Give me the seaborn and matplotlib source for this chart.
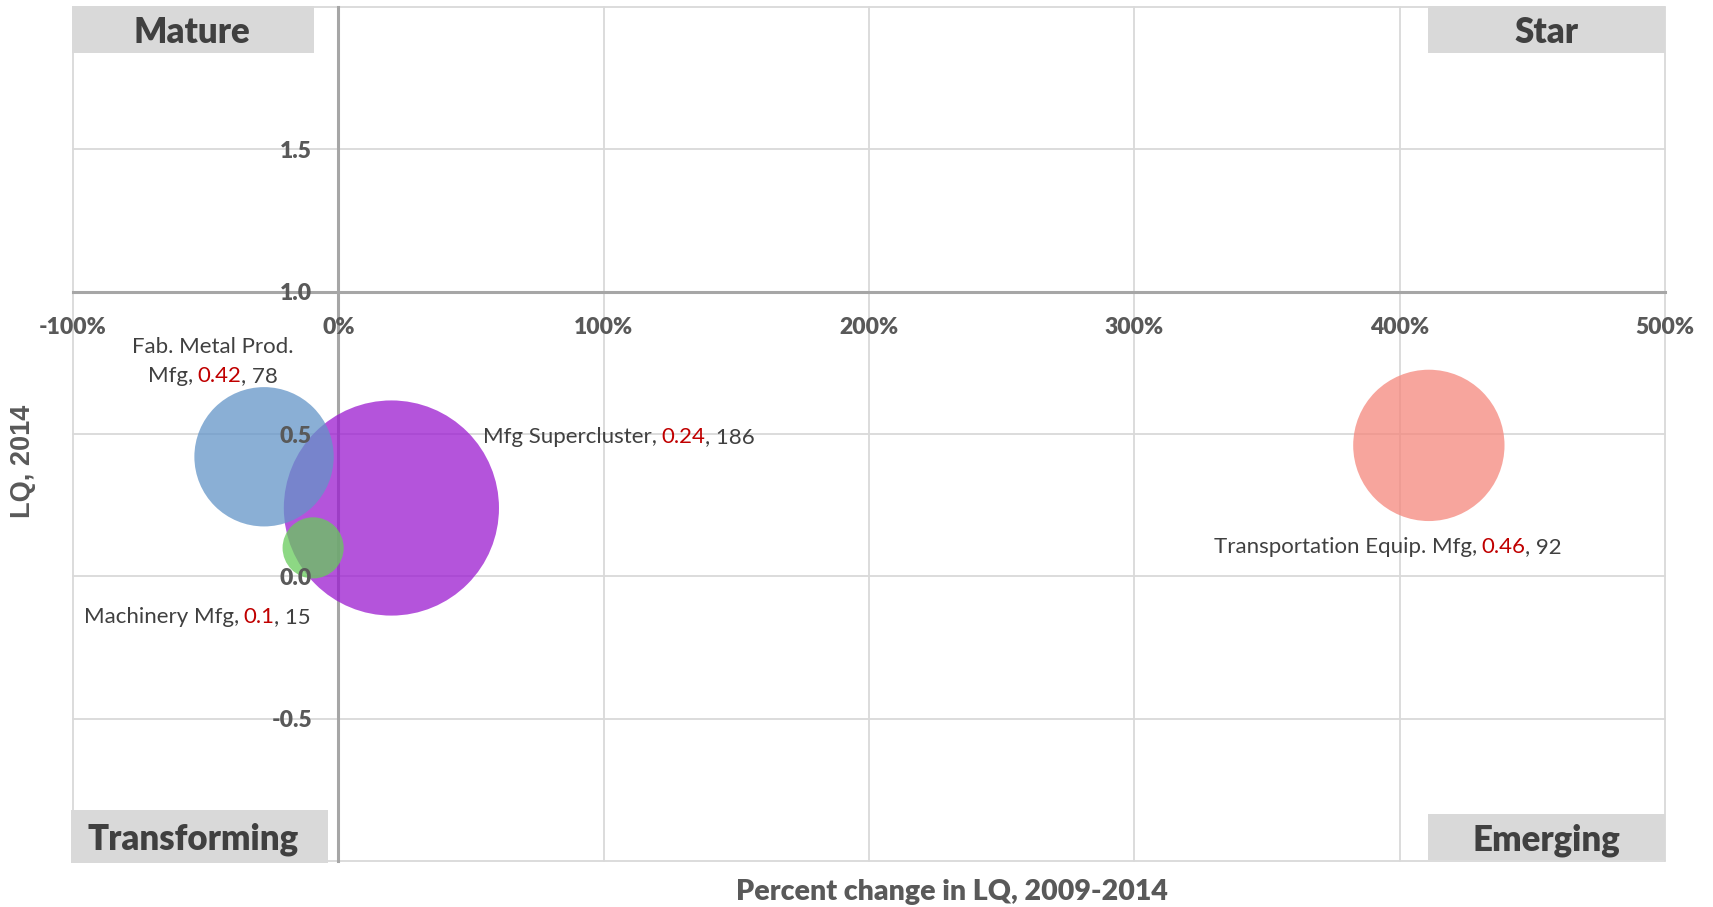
import pandas as pd
import matplotlib.pyplot as plt
import seaborn as sns
from matplotlib.patches import Rectangle
from matplotlib.offsetbox import TextArea, HPacker, VPacker, AnnotationBbox
from matplotlib.ticker import FuncFormatter

# data (drawing order: biggest bubble first)
clusters = ['Mfg Supercluster', 'Fab. Metal Prod. Mfg', 'Machinery Mfg', 'Transportation Equip. Mfg']
pct_change = [20, -28, -9.5, 411]
lq_2014 = [0.24, 0.42, 0.10, 0.46]
employment = [186, 78, 15, 92]
colors = ['#9B1BD0', '#6395C8', '#67CB5B', '#F5877C']

x_ticks = [-100, 0, 100, 200, 300, 400, 500]
y_ticks = [-1.0, -0.5, 0.0, 0.5, 1.0, 1.5, 2.0]

df = pd.DataFrame({'cluster': clusters, 'change': pct_change,
                   'lq': lq_2014, 'emp': employment})

W, H = 1713, 907
sns.set_style('white')
plt.rcParams['font.family'] = ['Lato', 'DejaVu Sans']

fig = plt.figure(figsize=(W / 100, H / 100), dpi=100)
ax = fig.add_axes([73 / W, 1 - 861 / H, (1665 - 73) / W, (861 - 7) / H])

grid_c = '#D9D9D9'
axis_c = '#A6A6A6'
text_c = '#595959'
lab_c = '#404040'

ax.set_xlim(-100, 500)
ax.set_ylim(-1.0, 2.0)
ax.set_xticks(x_ticks)
ax.set_yticks(y_ticks)
for v in x_ticks:
    ax.axvline(v, color=grid_c, lw=1.3, zorder=0.5, clip_on=False)
for v in y_ticks:
    ax.axhline(v, color=grid_c, lw=1.3, zorder=0.5, clip_on=False)

sns.scatterplot(data=df, x='change', y='lq', hue='cluster', palette=dict(zip(clusters, colors)),
                size='emp', sizes=(0, 24000), size_norm=(0, 186),
                alpha=0.75, linewidth=0, legend=False, ax=ax, zorder=3)

for s in ['top', 'right']:
    ax.spines[s].set_visible(False)
ax.spines['left'].set_position(('data', 0))
ax.spines['bottom'].set_position(('data', 1.0))
for s in ['left', 'bottom']:
    ax.spines[s].set_color(axis_c)
    ax.spines[s].set_linewidth(2.2)
    ax.spines[s].set_zorder(2)

ax.xaxis.set_major_formatter(FuncFormatter(lambda v, p: f'{v:.0f}%'))
ax.yaxis.set_major_formatter(FuncFormatter(
    lambda v, p: '' if v in (y_ticks[0], y_ticks[-1]) else f'{v:.1f}'))
ax.tick_params(axis='both', length=0, labelsize=16.5, labelcolor=text_c)
ax.tick_params(axis='x', pad=18)
ax.tick_params(axis='y', pad=19)
for lbl in ax.get_xticklabels() + ax.get_yticklabels():
    lbl.set_fontweight('heavy')
ax.xaxis.set_zorder(4)
ax.yaxis.set_zorder(4)
ax.set_xlabel('')
ax.set_ylabel('')

# axis titles
fig.text(952 / W, 1 - 892 / H, 'Percent change in LQ, 2009-2014', ha='center', va='center',
         fontsize=20.5, fontweight='heavy', color=text_c)
fig.text(23 / W, 1 - 461 / H, 'LQ, 2014', ha='center', va='center', rotation=90,
         fontsize=19.5, fontweight='bold', color=text_c, family=['Liberation Sans', 'DejaVu Sans'])

# quadrant boxes (pixel boxes: x0, y0, x1, y1) and text centre x
quads = [('Mature', (72, 6, 314, 53), 192), ('Star', (1428, 6, 1665, 53), 1546),
         ('Transforming', (71, 810, 328, 863), 193), ('Emerging', (1428, 814, 1665, 860), 1546)]
for name, (x0, y0, x1, y1), tx in quads:
    fig.patches.append(Rectangle((x0 / W, 1 - y1 / H), (x1 - x0) / W, (y1 - y0) / H,
                                 transform=fig.transFigure, facecolor='#D9D9D9',
                                 edgecolor='none', zorder=5))
    fig.text(tx / W, 1 - ((y0 + y1) / 2 + 3) / H, name, ha='center', va='center',
             fontsize=25, fontweight='heavy', color=lab_c, zorder=6)

# data labels: name, red LQ, size
label_pos = {
    'Mfg Supercluster': ((66, 51), (0, 0.5)),
    'Fab. Metal Prod. Mfg': ((-37, 68.5), (0.5, 0.5)),
    'Machinery Mfg': ((-1.5, -50), (1, 0.5)),
    'Transportation Equip. Mfg': ((-29.5, -73.5), (0.5, 0.5)),
}
fs = 16
for name, x, y, e in zip(clusters, pct_change, lq_2014, employment):
    tp = dict(color=lab_c, fontsize=fs)
    red = dict(color='#C00000', fontsize=fs)
    if name == 'Fab. Metal Prod. Mfg':
        first, head = 'Mfg,', TextArea('Fab. Metal Prod.', textprops=tp)
    else:
        first, head = name + ',', None
    tail = HPacker(children=[TextArea(f'{y:g}', textprops=red),
                             TextArea(f', {e}', textprops=tp)], sep=0, pad=0)
    line = HPacker(children=[TextArea(first, textprops=tp), tail], sep=3, pad=0)
    box = line if head is None else VPacker(children=[head, line], sep=6.5, pad=0, align='center')
    off, align = label_pos[name]
    ab = AnnotationBbox(box, (x, y), xybox=off, boxcoords='offset points',
                        box_alignment=align, frameon=False, pad=0, zorder=6)
    ax.add_artist(ab)

plt.savefig('out.png', dpi=100)
